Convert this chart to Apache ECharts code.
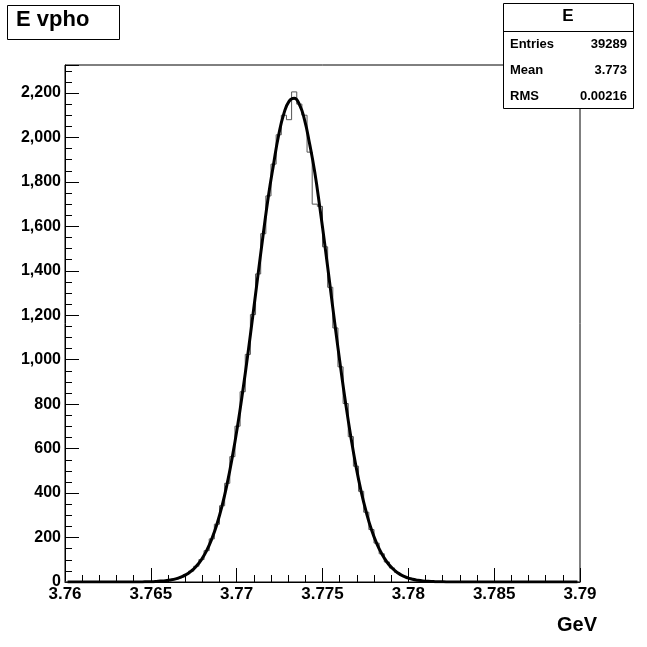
<!DOCTYPE html><html><head><meta charset="utf-8"><script src="https://cdn.jsdelivr.net/npm/echarts@6/dist/echarts.min.js"></script>
<style>html,body{margin:0;background:#fff}#c{width:647px;height:647px}</style></head><body><div id="c"></div><script>
const xMin=3.76, binWidth=0.0003;
const counts=[0,0,0,0,0,0,0,0,0,0,0,0,0,0,0,
1,1,2,4,6,9,14,22,33,49,71,101,141,194,260,343,444,564,701,856,1024,1203,1386,1567,1737,1880,2012,2100,2080,
2205,2150,2100,1934,1700,1690,1508,1326,1143,968,803,654,521,408,314,236,175,127,90,63,43,29,19,12,8,5,3,2,1,1,
0,0,0,0,0,0,0,0,0,0,0,0,0,0,0,0,0,0,0,0,0,0,0,0,0,0];
const fit=[0,0,0,0,0,0,0,0,0,0,0,0,0,0,0,
1,1,2,4,6,9,14,22,33,49,71,101,141,194,260,343,444,564,701,856,1024,1203,1386,1567,1737,1880,2012,2107,2162,
2176,2149,2080,1971,1843,1682,1508,1326,1143,968,803,654,521,408,314,236,175,127,90,63,43,29,19,12,8,5,3,2,1,1,
0,0,0,0,0,0,0,0,0,0,0,0,0,0,0,0,0,0,0,0,0,0,0,0,0,0];
const stats=[["Entries","39289"],["Mean","3.773"],["RMS","0.00216"]];
const histPts=counts.map((v,i)=>[xMin+binWidth*i,v]);histPts.push([xMin+binWidth*counts.length,counts[counts.length-1]]);
const fitPts=fit.map((v,i)=>[xMin+binWidth*(i+0.5),v]);
const F='Liberation Sans';
const ch=echarts.init(document.getElementById('c'));
const g=[{type:'rect',shape:{x:7.5,y:5.5,width:112,height:34},style:{fill:'#fff',stroke:'#000',lineWidth:1}},
{type:'text',x:16,y:9,style:{text:'E vpho',font:'bold 22px '+F,fill:'#000'}},
{type:'rect',shape:{x:503.5,y:3.5,width:130,height:105},style:{fill:'#fff',stroke:'#000',lineWidth:1}},
{type:'line',shape:{x1:503.5,y1:31.5,x2:633.5,y2:31.5},style:{stroke:'#000'}},
{type:'text',x:568,y:8,style:{text:'E',font:'bold 17px '+F,fill:'#000',align:'center'}},
{type:'text',x:557,y:615,style:{text:'GeV',font:'bold 20px '+F,fill:'#000'}}];
stats.forEach((s,k)=>{g.push({type:'text',x:510,y:38+k*26,style:{text:s[0],font:'bold 13px '+F,fill:'#000'}});
g.push({type:'text',x:627,y:38+k*26,style:{text:s[1],font:'bold 13px '+F,fill:'#000',align:'right'}});});
ch.setOption({animation:false,
grid:{left:65,right:67,top:65,bottom:65,show:true,borderColor:'#000',borderWidth:1},
xAxis:{type:'value',min:3.76,max:3.79,interval:0.005,axisLine:{lineStyle:{color:'#000'}},
 axisTick:{inside:true,length:14,lineStyle:{color:'#000'}},minorTick:{show:true,splitNumber:5,length:7,lineStyle:{color:'#000'}},
 splitLine:{show:false},axisLabel:{color:'#000',font:'bold 17px '+F,fontWeight:'bold',fontSize:17,fontFamily:F,margin:4,formatter:v=>+v.toFixed(3)+''}},
yAxis:{type:'value',min:0,max:2326,interval:200,axisLine:{show:true,lineStyle:{color:'#000'}},
 axisTick:{inside:true,length:14,lineStyle:{color:'#000'}},minorTick:{show:true,splitNumber:4,length:7,lineStyle:{color:'#000'}},
 splitLine:{show:false},axisLabel:{color:'#000',fontWeight:'bold',fontSize:16,fontFamily:F,showMaxLabel:false,margin:4}},
series:[{type:'line',step:'end',data:histPts,symbol:'none',lineStyle:{color:'#555',width:1}},
{type:'line',data:fitPts,smooth:true,symbol:'none',lineStyle:{color:'#000',width:3}}],
graphic:g});
</script></body></html>
